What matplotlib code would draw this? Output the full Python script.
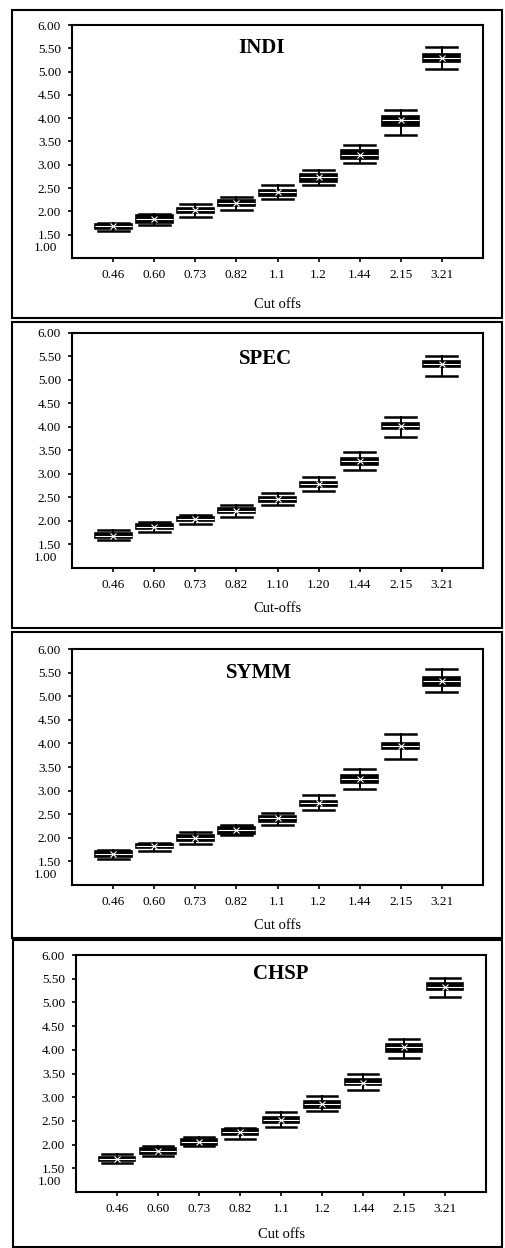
import matplotlib
matplotlib.use("Agg")
import matplotlib.pyplot as plt
from matplotlib.patches import Rectangle

plt.rcParams['font.family'] = ['Liberation Serif', 'DejaVu Serif']

# cut-off labels for each panel
cuts_a = ["0.46", "0.60", "0.73", "0.82", "1.1", "1.2", "1.44", "2.15", "3.21"]
cuts_b = ["0.46", "0.60", "0.73", "0.82", "1.10", "1.20", "1.44", "2.15", "3.21"]

# box statistics (whisker low, q1, median, q3, whisker high)
indi_lo = [1.57, 1.71, 1.89, 2.04, 2.26, 2.56, 3.04, 3.64, 5.06]
indi_q1 = [1.62, 1.76, 1.96, 2.11, 2.34, 2.64, 3.12, 3.84, 5.21]
indi_med = [1.68, 1.83, 2.02, 2.18, 2.41, 2.74, 3.22, 3.96, 5.30]
indi_q3 = [1.74, 1.93, 2.07, 2.25, 2.46, 2.81, 3.32, 4.04, 5.37]
indi_hi = [1.76, 1.94, 2.16, 2.31, 2.57, 2.89, 3.43, 4.18, 5.52]

spec_lo = [1.59, 1.77, 1.93, 2.09, 2.34, 2.64, 3.08, 3.78, 5.09]
spec_q1 = [1.63, 1.82, 2.00, 2.16, 2.40, 2.73, 3.20, 3.95, 5.27]
spec_med = [1.69, 1.87, 2.04, 2.22, 2.46, 2.78, 3.28, 4.02, 5.33]
spec_q3 = [1.75, 1.93, 2.09, 2.27, 2.51, 2.83, 3.35, 4.08, 5.40]
spec_hi = [1.80, 1.97, 2.12, 2.35, 2.59, 2.93, 3.46, 4.21, 5.52]

symm_lo = [1.55, 1.71, 1.87, 2.05, 2.28, 2.58, 3.03, 3.68, 5.08]
symm_q1 = [1.60, 1.78, 1.93, 2.08, 2.34, 2.67, 3.16, 3.88, 5.22]
symm_med = [1.65, 1.82, 2.00, 2.16, 2.41, 2.73, 3.25, 3.95, 5.32]
symm_q3 = [1.71, 1.87, 2.06, 2.22, 2.47, 2.79, 3.34, 4.01, 5.40]
symm_hi = [1.74, 1.90, 2.12, 2.28, 2.53, 2.90, 3.45, 4.20, 5.58]

chsp_lo = [1.61, 1.77, 1.96, 2.12, 2.38, 2.70, 3.16, 3.82, 5.12]
chsp_q1 = [1.65, 1.81, 2.00, 2.21, 2.45, 2.77, 3.25, 3.96, 5.26]
chsp_med = [1.70, 1.87, 2.05, 2.27, 2.52, 2.85, 3.31, 4.05, 5.33]
chsp_q3 = [1.74, 1.93, 2.12, 2.33, 2.59, 2.92, 3.39, 4.12, 5.40]
chsp_hi = [1.80, 1.98, 2.15, 2.36, 2.69, 3.03, 3.49, 4.23, 5.52]

y_ticks = [1.5, 2.0, 2.5, 3.0, 3.5, 4.0, 4.5, 5.0, 5.5, 6.0]

W, H = 505, 1248
fig = plt.figure(figsize=(W / 100, H / 100), dpi=100)

# (title, labels, xlabel, stats, axes box px [left, top, right, bottom], frame px, title pos, labelpad)
panels = [
    ("INDI", cuts_a, "Cut offs", (indi_lo, indi_q1, indi_med, indi_q3, indi_hi),
     (72, 25, 483, 258), (12, 10, 502, 318), (0.46, 0.90), 12),
    ("SPEC", cuts_b, "Cut-offs", (spec_lo, spec_q1, spec_med, spec_q3, spec_hi),
     (72, 333, 483, 568), (12, 322, 502, 628), (0.47, 0.89), 8),
    ("SYMM", cuts_a, "Cut offs", (symm_lo, symm_q1, symm_med, symm_q3, symm_hi),
     (72, 649, 483, 885), (12, 632, 502, 938), (0.455, 0.90), 8),
    ("CHSP", cuts_a, "Cut offs", (chsp_lo, chsp_q1, chsp_med, chsp_q3, chsp_hi),
     (76, 955, 486, 1192), (13, 940, 502, 1247), (0.50, 0.92), 9),
]

for title, labels, xlab, stats, box, frame, tpos, lpad in panels:
    # outer frame round each panel
    fx0, fy0, fx1, fy1 = frame
    fig.add_artist(Rectangle((fx0 / W, 1 - fy1 / H), (fx1 - fx0) / W, (fy1 - fy0) / H,
                             transform=fig.transFigure, fill=False, lw=1.5,
                             edgecolor="black", clip_on=False))

    l, t, r, b = box
    ax = fig.add_axes([l / W, 1 - b / H, (r - l) / W, (b - t) / H])
    lo, q1, med, q3, hi = stats
    bstats = []
    for i in range(len(labels)):
        bstats.append({"whislo": lo[i], "q1": q1[i], "med": med[i], "q3": q3[i],
                       "whishi": hi[i], "mean": med[i], "fliers": [], "label": labels[i]})
    ax.bxp(bstats, positions=range(1, len(labels) + 1), widths=0.9, patch_artist=True,
           showmeans=True, capwidths=0.75,
           boxprops=dict(facecolor="black", edgecolor="black", lw=1.2),
           whiskerprops=dict(color="black", lw=1.4),
           capprops=dict(color="black", lw=1.8),
           medianprops=dict(color="white", lw=0.8),
           meanprops=dict(marker="x", markeredgecolor="white", markersize=4, mew=0.8))

    ax.set_xlim(0, 10)
    ax.set_ylim(1.0, 6.0)
    ax.set_yticks(y_ticks)
    ax.set_yticklabels([f"{v:.2f}" for v in y_ticks])
    ax.text(-0.035, 1.22, "1.00", transform=ax.get_yaxis_transform(),
            ha="right", va="center", fontsize=9.5)
    ax.tick_params(axis="both", direction="out", length=3, width=1.2, labelsize=9.5, pad=5)
    for sp in ax.spines.values():
        sp.set_linewidth(1.5)
    ax.set_xlabel(xlab, fontsize=10.5, labelpad=lpad)
    ax.text(tpos[0], tpos[1], title, transform=ax.transAxes, ha="center", va="center",
            fontsize=15, fontweight="bold")

fig.savefig("out.png", dpi=100)
